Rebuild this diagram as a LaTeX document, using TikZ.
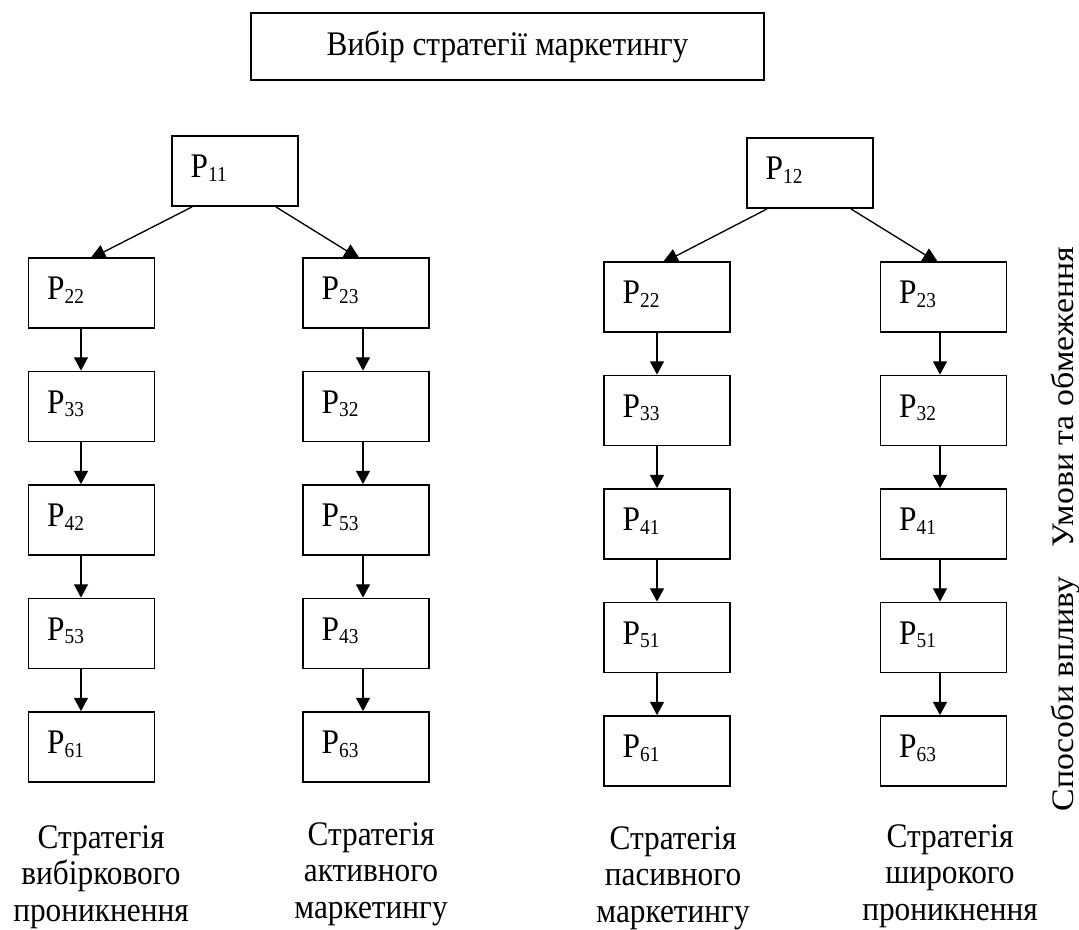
\documentclass[tikz,border=0pt]{standalone}
\usepackage{fontspec}
\setmainfont{Liberation Serif}
\usetikzlibrary{arrows.meta,calc}
\pgfdeclarelayer{background}
\pgfsetlayers{background,main}
\newcommand\vs[1]{\scalebox{1}[1.1]{#1}}
\newcommand\Pv[1]{\vs{P\raisebox{-0.1em}{\fontsize{14.5pt}{14.5pt}\selectfont #1}}}
\newcommand\capthree[3]{\vs{\begin{tabular}[t]{@{}c@{}}#1\\#2\\#3\end{tabular}}}
\tikzset{
  pbox/.style={draw, line width=1.3pt, fill=white, rectangle,
    minimum width=94.5pt, minimum height=52.5pt,
    inner xsep=14pt, inner ysep=0pt, text width=66.5pt, align=left,
    text height=17pt, text depth=7pt, font=\fontsize{23.5pt}{27pt}\selectfont},
  titlebox/.style={draw, line width=1.3pt, rectangle,
    minimum width=384.75pt, minimum height=50.25pt, inner sep=0pt,
    font=\fontsize{23.5pt}{27pt}\selectfont},
  caption/.style={inner sep=0pt, anchor=base,
    font=\fontsize{23.5pt}{25.2pt}\selectfont},
  side/.style={rotate=90, anchor=base, inner sep=0pt,
    font=\fontsize{23.5pt}{27pt}\selectfont},
  arr/.style={-{Triangle[length=10pt,width=10.5pt]}, line width=1pt},
  darr/.style={-{Triangle[length=12pt,width=11pt]}, line width=1pt},
}
\begin{document}
\begin{tikzpicture}[x=0.75pt,y=-0.75pt]
\useasboundingbox (0,0) rectangle (1079,929);

\node[titlebox] (title) at (507.5,46.5) {\vs{Вибір стратегії маркетингу}};

\node[pbox] (p11) at (235,171) {\Pv{11}};
\node[pbox] (p12) at (810,173) {\Pv{12}};

% column 1
\node[pbox] (a1) at (91.5,293) {\Pv{22}};
\node[pbox] (a2) at (91.5,406.5) {\Pv{33}};
\node[pbox] (a3) at (91.5,520) {\Pv{42}};
\node[pbox] (a4) at (91.5,633.5) {\Pv{53}};
\node[pbox] (a5) at (91.5,747) {\Pv{61}};
% column 2
\node[pbox] (b1) at (366,293) {\Pv{23}};
\node[pbox] (b2) at (366,406.5) {\Pv{32}};
\node[pbox] (b3) at (366,520) {\Pv{53}};
\node[pbox] (b4) at (366,633.5) {\Pv{43}};
\node[pbox] (b5) at (366,747) {\Pv{63}};
% column 3
\node[pbox] (c1) at (667,297) {\Pv{22}};
\node[pbox] (c2) at (667,410.5) {\Pv{33}};
\node[pbox] (c3) at (667,524) {\Pv{41}};
\node[pbox] (c4) at (667,637.5) {\Pv{51}};
\node[pbox] (c5) at (667,751) {\Pv{61}};
% column 4
\node[pbox] (d1) at (943.5,297) {\Pv{23}};
\node[pbox] (d2) at (943.5,410.5) {\Pv{32}};
\node[pbox] (d3) at (943.5,524) {\Pv{41}};
\node[pbox] (d4) at (943.5,637.5) {\Pv{51}};
\node[pbox] (d5) at (943.5,751) {\Pv{63}};

\begin{pgfonlayer}{background}
\draw[darr] ($(p11.south west)+(21,0)$) -- ($(a1.north west)+(62,2)$);
\draw[darr] ($(p11.south east)+(-23,0)$) -- ($(b1.north west)+(58,2)$);
\draw[darr] ($(p12.south west)+(21,0)$) -- ($(c1.north west)+(59,2)$);
\draw[darr] ($(p12.south east)+(-23,0)$) -- ($(d1.north west)+(59,2)$);
\end{pgfonlayer}

\foreach \u/\v in {a1/a2,a2/a3,a3/a4,a4/a5}
  \draw[arr] ($(\u.south)+(-10.5,0)$) -- ($(\v.north)+(-10.5,0)$);
\foreach \u/\v in {b1/b2,b2/b3,b3/b4,b4/b5}
  \draw[arr] ($(\u.south)+(-3,0)$) -- ($(\v.north)+(-3,0)$);
\foreach \u/\v in {c1/c2,c2/c3,c3/c4,c4/c5}
  \draw[arr] ($(\u.south)+(-10,0)$) -- ($(\v.north)+(-10,0)$);
\foreach \u/\v in {d1/d2,d2/d3,d3/d4,d4/d5}
  \draw[arr] ($(\u.south)+(-3.5,0)$) -- ($(\v.north)+(-3.5,0)$);

\node[caption] (s1) at (101,848) {\capthree{Стратегія}{вибіркового}{проникнення}};
\node[caption] (s2) at (371,845) {\capthree{Стратегія}{активного}{маркетингу}};
\node[caption] (s3) at (673,849) {\capthree{Стратегія}{пасивного}{маркетингу}};
\node[caption] (s4) at (950,847) {\capthree{Стратегія}{широкого}{проникнення}};

\node[side] (t1) at (1073,397) {\scalebox{1.08}[1]{Умови та обмеження}};
\node[side] (t2) at (1073,694) {\scalebox{1.08}[1]{Способи впливу}};
\end{tikzpicture}
\end{document}
